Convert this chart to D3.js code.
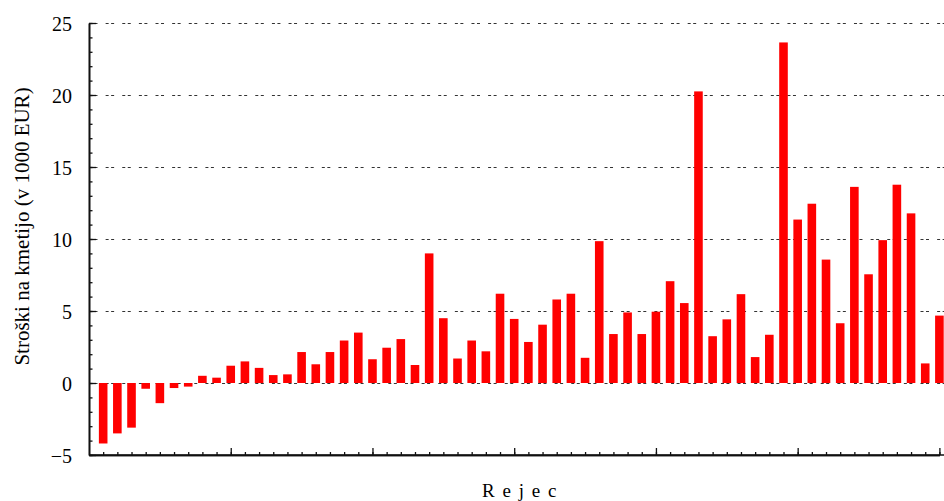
<!DOCTYPE html>
<html>
<head>
<meta charset="utf-8">
<script src="https://cdn.jsdelivr.net/npm/d3@7"></script>
<style>
  html, body { margin: 0; padding: 0; background: #fff; }
  svg { display: block; }
  svg text { font-family: "Liberation Serif", "Times New Roman", Times, "DejaVu Serif", serif !important; fill: #000; }
</style>
</head>
<body>
<svg id="chart" width="944" height="501"></svg>
<script>
// Data
const farms = d3.range(1, 61); // 60 farms, index 1..60
const costs = [
  -4.2, -3.5, -3.1, -0.4, -1.4, -0.35, -0.25, 0.5, 0.37, 1.2,
  1.5, 1.05, 0.55, 0.6, 2.15, 1.3, 2.15, 2.95, 3.5, 1.65,
  2.45, 3.05, 1.25, 9.0, 4.5, 1.7, 2.95, 2.2, 6.2, 4.45,
  2.85, 4.05, 5.8, 6.2, 1.75, 9.85, 3.4, 4.9, 3.4, 4.95,
  7.07, 5.55, 20.25, 3.25, 4.42, 6.17, 1.8, 3.35, 23.65, 11.35,
  12.45, 8.57, 4.15, 13.62, 7.55, 9.92, 13.77, 11.78, 1.36, 4.68
];
const yMajorTicks = [-5, 0, 5, 10, 15, 20, 25];
const yMinorTicks = d3.range(-5, 26, 1);
const xMajorTicks = [10, 20, 30, 40, 50, 60];
const xMinorTicks = d3.range(1, 61, 1);
const yTitle = "Stroški na kmetijo (v 1000 EUR)";
const xTitle = "R e j e c";

const FONT = "'Liberation Serif', 'Times New Roman', Times, 'DejaVu Serif', serif";

const svg = d3.select("#chart");
const mLeft = 89, mRight = 939.4, mTop = 23, mBottom = 455, figRight = 944;

const x = d3.scaleLinear().domain([0, 60]).range([mLeft, mRight]);
const y = d3.scaleLinear().domain([-5, 25]).range([mBottom, mTop]);
const barW = 8.6;

// Grid lines
svg.append("g").selectAll("line")
  .data(yMajorTicks.filter(v => v > -5))
  .join("line")
  .attr("x1", mLeft).attr("x2", figRight)
  .attr("y1", d => Math.round(y(d)) + 0.5).attr("y2", d => Math.round(y(d)) + 0.5)
  .attr("stroke", "#333")
  .attr("stroke-width", 1)
  .attr("stroke-dasharray", "3,2.5,3,8.13");

// Bars
svg.append("g").selectAll("rect")
  .data(farms)
  .join("rect")
  .attr("x", (d) => x(d) - barW / 2)
  .attr("width", barW)
  .attr("y", (d, i) => y(Math.max(0, costs[i])))
  .attr("height", (d, i) => Math.abs(y(costs[i]) - y(0)))
  .attr("fill", "#ff0000");

// Y axis: minor ticks (inward)
const yMinor = svg.append("g").attr("transform", `translate(${mLeft},0)`)
  .call(d3.axisLeft(y).tickValues(yMinorTicks).tickSizeInner(-3.5).tickSizeOuter(0).tickFormat(""));
// Y axis: major ticks + labels
const yMajor = svg.append("g").attr("transform", `translate(${mLeft},0)`)
  .call(d3.axisLeft(y).tickValues(yMajorTicks).tickSizeInner(-7).tickSizeOuter(0).tickPadding(17).tickFormat(d3.format("d")));

// X axis: minor + major ticks (inward, no labels)
const xMinor = svg.append("g").attr("transform", `translate(0,${mBottom})`)
  .call(d3.axisBottom(x).tickValues(xMinorTicks).tickSizeInner(-3).tickSizeOuter(0).tickFormat(""));
const xMajor = svg.append("g").attr("transform", `translate(0,${mBottom})`)
  .call(d3.axisBottom(x).tickValues(xMajorTicks).tickSizeInner(-7).tickSizeOuter(0).tickFormat(""));

[yMinor, yMajor, xMinor, xMajor].forEach(g => {
  g.attr("font-family", null);
  g.selectAll("path.domain").attr("stroke", "#111").attr("stroke-width", 1.6);
  g.selectAll(".tick line").attr("stroke", "#111").attr("stroke-width", 1.3);
});
yMajor.selectAll("text")
  .style("font-family", FONT)
  .attr("font-size", 20)
  .attr("fill", "#000")
  .attr("dy", "0.38em");

// Extend x axis line to figure edge
svg.append("line")
  .attr("x1", mLeft).attr("x2", figRight)
  .attr("y1", mBottom).attr("y2", mBottom)
  .attr("stroke", "#111").attr("stroke-width", 1.6);

// Y title
svg.append("text")
  .attr("transform", `translate(29,226.5) rotate(-90)`)
  .attr("text-anchor", "middle")
  .style("font-family", FONT)
  .attr("font-size", 21)
  .text(yTitle);

// X title
svg.append("text")
  .attr("x", 520).attr("y", 497)
  .attr("text-anchor", "middle")
  .style("font-family", FONT)
  .attr("font-size", 19)
  .attr("letter-spacing", 1.5)
  .text(xTitle);
</script>
</body>
</html>
